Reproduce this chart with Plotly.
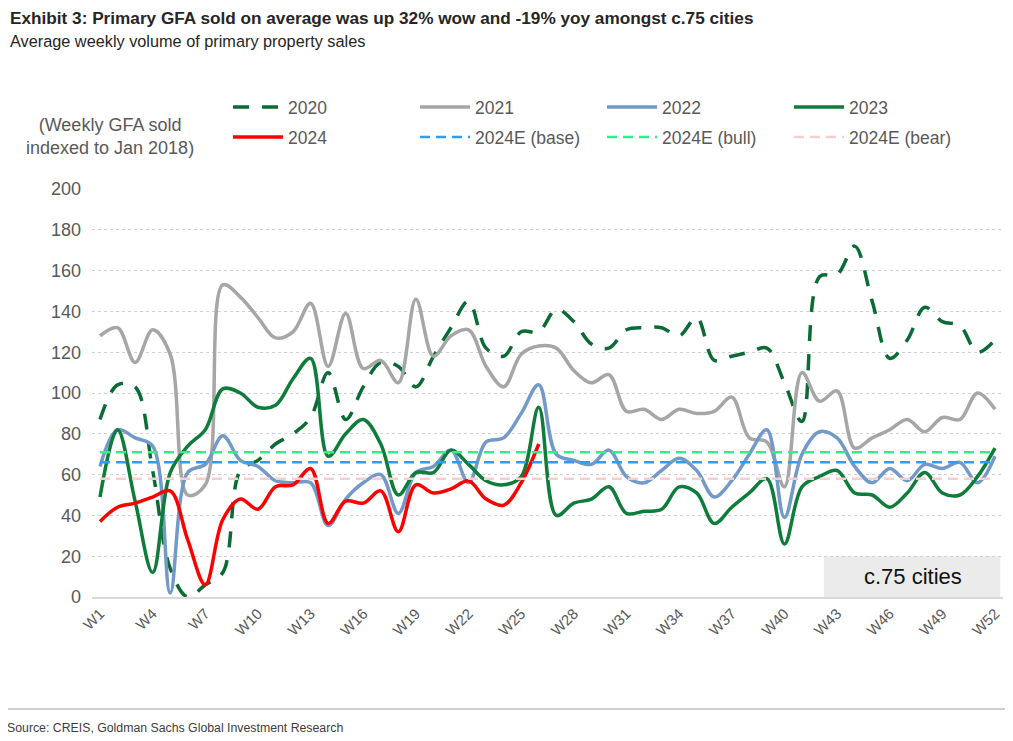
import plotly.graph_objects as go

weeks = list(range(1, 53))
week_labels = [f"W{w}" for w in weeks]
tick_weeks = list(range(1, 53, 3))
tick_labels = [f"W{w}" for w in tick_weeks]

y2020 = [87, 104, 103, 62, 14, 0, 6, 12, 62, 67, 75, 80, 88, 110, 87, 103, 115, 113, 103, 118,
         132, 145, 122, 118, 130, 130, 141, 135, 124, 122, 131, 132, 132, 128, 137, 116, 118, 120,
         122, 105, 86, 157, 158, 172, 145, 117, 126, 142, 135, 133, 120, 126]
y2021 = [128, 132, 115, 131, 119, 50, 55, 153, 147, 137, 127, 130, 144, 113, 139, 112, 116, 105,
         146, 118, 128, 131, 113, 103, 119, 123, 122, 111, 105, 109, 91, 92, 87, 92, 90, 91, 98,
         78, 76, 54, 110, 96, 101, 73, 78, 82, 87, 81, 88, 87, 100, 92]
y2022 = [64, 82, 78, 74, 2, 61, 65, 79, 67, 64, 57, 56, 56, 35, 48, 56, 60, 41, 61, 64, 72, 56,
         76, 78, 90, 104, 70, 67, 65, 72, 59, 56, 62, 68, 62, 49, 57, 70, 82, 39, 70, 81, 78, 64,
         56, 63, 57, 65, 63, 66, 56, 69]
y2023 = [49, 82, 47, 12, 61, 74, 82, 102, 100, 93, 94, 107, 117, 69, 80, 87, 75, 50, 61, 61, 72,
         65, 57, 55, 59, 93, 40, 46, 48, 54, 41, 42, 43, 54, 51, 36, 44, 51, 58, 26, 54, 59, 62,
         51, 50, 44, 51, 61, 51, 50, 59, 73]
y2024 = [37, 44, 46, 49, 52, 28, 6, 38, 48, 43, 54, 55, 63, 36, 47, 46, 52, 32, 55, 51, 53, 57,
         48, 45, 56, 75]
base_2024e = 66
bull_2024e = 71
bear_2024e = 58

GREY_TXT = "#595959"
FONT = "Liberation Sans, Arial, sans-serif"

fig = go.Figure()

def add_line(x, y, name, color, dash="solid", width=3.5, legend="legend"):
    fig.add_trace(go.Scatter(
        x=x, y=y, name=name, mode="lines",
        line=dict(color=color, width=width, dash=dash, shape="spline", smoothing=1.0),
        legend=legend, hoverinfo="skip"))

add_line(weeks, y2020, "2020", "#0B6B35", dash="16px,13px", width=3.5)
add_line(weeks, y2021, "2021", "#A6A6A6")
add_line(weeks, y2022, "2022", "#7399C9")
add_line(weeks, y2023, "2023", "#0E7C3A")
add_line(weeks[:len(y2024)], y2024, "2024", "#FF0000", legend="legend2")
add_line([weeks[0], weeks[-1]], [base_2024e] * 2, "2024E (base)", "#2E9BFF", dash="10px,6px", width=2.5, legend="legend2")
add_line([weeks[0], weeks[-1]], [bull_2024e] * 2, "2024E (bull)", "#2EF08A", dash="10px,6px", width=2.5, legend="legend2")
add_line([weeks[0], weeks[-1]], [bear_2024e] * 2, "2024E (bear)", "#F4CFCF", dash="10px,6px", width=2.5, legend="legend2")

legend_common = dict(
    orientation="h", xanchor="left", yanchor="middle",
    font=dict(family=FONT, size=17.5, color=GREY_TXT),
    entrywidth=122, entrywidthmode="pixels", itemwidth=50,
    bgcolor="rgba(0,0,0,0)", itemclick=False, itemdoubleclick=False,
)

fig.update_layout(
    width=1013, height=741,
    margin=dict(l=84, r=18, t=181, b=152, autoexpand=False),
    paper_bgcolor="white", plot_bgcolor="white",
    showlegend=True,
    legend=dict(x=(228 - 92) / 911, y=(597 - 107) / 408, **legend_common),
    legend2=dict(x=(228 - 92) / 911, y=(597 - 137) / 408, **legend_common),
    xaxis=dict(
        range=[1 - 8 / 17.55, 52 + 8 / 17.55], tickvals=tick_weeks, ticktext=tick_labels,
        tickangle=-45, tickfont=dict(family=FONT, size=15, color=GREY_TXT),
        showgrid=False, zeroline=False, showline=True, linecolor="#D9D9D9", linewidth=2,
        ticks="", fixedrange=True,
    ),
    yaxis=dict(
        range=[0, 200], dtick=20, tickfont=dict(family=FONT, size=18, color=GREY_TXT),
        showgrid=True, gridcolor="#D0D0D0", griddash="dot", gridwidth=1,
        zeroline=False, showline=False, ticks="", ticklen=0, fixedrange=True,
        ticklabelstandoff=10,
    ),
    shapes=[
        dict(type="rect", xref="x", yref="y", x0=42.25, x1=52.3, y0=0, y1=20,
             fillcolor="#EBEBEB", line=dict(width=0), layer="below"),
        dict(type="line", xref="paper", yref="paper", x0=-87 / 911, x1=1.02,
             y0=(597 - 709) / 408, y1=(597 - 709) / 408, line=dict(color="#BFBFBF", width=1.5)),
    ],
    annotations=[
        dict(text="<b>Exhibit 3: Primary GFA sold on average was up 32% wow and -19% yoy amongst c.75 cities</b>",
             xref="paper", yref="paper", x=-84 / 911, y=(597 - 18) / 408, xanchor="left", yanchor="middle",
             showarrow=False, font=dict(family=FONT, size=17.2, color="#262626")),
        dict(text="Average weekly volume of primary property sales",
             xref="paper", yref="paper", x=-84 / 911, y=(597 - 41) / 408, xanchor="left", yanchor="middle",
             showarrow=False, font=dict(family=FONT, size=16.3, color="#262626")),
        dict(text="(Weekly GFA sold<br>indexed to Jan 2018)",
             xref="paper", yref="paper", x=(110 - 92) / 911, y=(597 - 136) / 408, xanchor="center", yanchor="middle",
             showarrow=False, align="center", font=dict(family=FONT, size=18, color=GREY_TXT)),
        dict(text="c.75 cities", xref="x", yref="y", x=47.3, y=10, showarrow=False,
             font=dict(family=FONT, size=22, color="#111111")),
        dict(text="Source: CREIS, Goldman Sachs Global Investment Research",
             xref="paper", yref="paper", x=-87 / 911, y=(597 - 728) / 408, xanchor="left", yanchor="middle",
             showarrow=False, font=dict(family=FONT, size=12.3, color="#404040")),
    ],
)

fig.write_html("out.html")
